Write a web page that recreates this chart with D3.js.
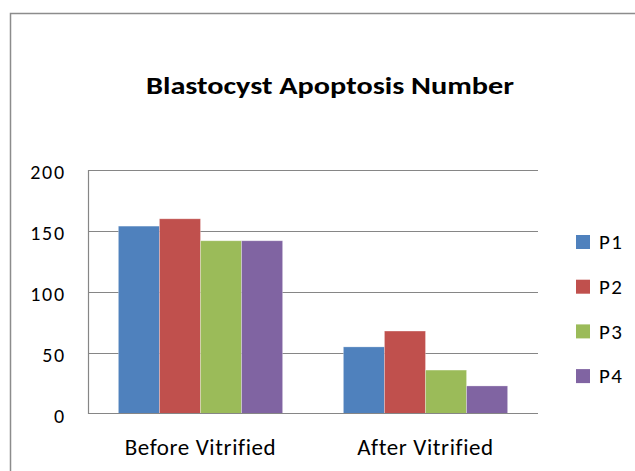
<!DOCTYPE html>
<html>
<head>
<meta charset="utf-8">
<script src="https://cdn.jsdelivr.net/npm/d3@7"></script>
<style>
  html, body { margin: 0; padding: 0; background: #fff; }
  svg { display: block; }
  text { font-family: Carlito, "Open Sans", "Noto Sans", sans-serif; fill: #000; }
</style>
</head>
<body>
<div id="chart"></div>
<script>
// data
const categories = ["Before Vitrified", "After Vitrified"];
const seriesNames = ["P1", "P2", "P3", "P4"];
const seriesValues = [
  [154, 55],   // P1
  [160, 68],   // P2
  [142, 36],   // P3
  [142, 23]    // P4
];
const yTicks = [0, 50, 100, 150, 200];
const colors = ["#4f81bd", "#c0504d", "#9bbb59", "#8064a2"];

const width = 635, height = 471;
const dims = { left: 88, right: 538, top: 170, bottom: 414 };

const svg = d3.select("#chart").append("svg")
  .attr("width", width)
  .attr("height", height);

// chart area border (runs off the right and bottom edges)
svg.append("rect")
  .attr("x", 10.5).attr("y", 13.5)
  .attr("width", 700).attr("height", 600)
  .attr("fill", "#fff")
  .attr("stroke", "#8c8c8c")
  .attr("stroke-width", 1.5);

// title
svg.append("text")
  .attr("x", 330).attr("y", 94)
  .attr("text-anchor", "middle")
  .attr("font-size", 25)
  .attr("font-weight", "bold")
  .attr("textLength", 368)
  .attr("lengthAdjust", "spacingAndGlyphs")
  .text("Blastocyst Apoptosis Number");

// scales
const x0 = d3.scaleBand()
  .domain(categories)
  .range([dims.left, dims.right]);
const x1 = d3.scaleBand()
  .domain(seriesNames)
  .range([0, x0.bandwidth() * 0.73]);
const y = d3.scaleLinear()
  .domain([0, 200])
  .range([dims.bottom, dims.top]);

// grid lines
svg.append("g")
  .selectAll("line")
  .data(yTicks.filter(d => d > 0))
  .join("line")
    .attr("x1", dims.left).attr("x2", dims.right)
    .attr("y1", d => Math.round(y(d)) + 0.5)
    .attr("y2", d => Math.round(y(d)) + 0.5)
    .attr("stroke", "#868686")
    .attr("stroke-width", 1.2);

// y axis labels
const yAxis = svg.append("g")
  .attr("transform", `translate(${dims.left},0)`)
  .call(d3.axisLeft(y).tickValues(yTicks).tickSize(0).tickPadding(22));
yAxis.select(".domain").remove();
yAxis.selectAll("text")
  .attr("font-size", 20)
  .attr("letter-spacing", 1.8)
  .attr("dy", "0.4em")
  .attr("font-family", null)
  .attr("fill", "#000");

// bars
const groupOffset = (x0.bandwidth() - x1.range()[1]) / 2;
const groups = svg.append("g")
  .selectAll("g")
  .data(seriesNames.map((name, i) => ({ name, i })))
  .join("g")
    .attr("fill", d => colors[d.i]);

groups.selectAll("rect")
  .data(d => categories.map((c, j) => ({ name: d.name, cat: c, value: seriesValues[d.i][j] })))
  .join("rect")
    .attr("x", d => x0(d.cat) + groupOffset + x1(d.name))
    .attr("y", d => y(d.value))
    .attr("width", x1.bandwidth())
    .attr("height", d => y(0) - y(d.value))
    .attr("stroke", "rgba(255,255,255,0.35)")
    .attr("stroke-width", 0.8);

// axis lines
svg.append("line")
  .attr("x1", dims.left + 0.5).attr("x2", dims.left + 0.5)
  .attr("y1", dims.top).attr("y2", dims.bottom)
  .attr("stroke", "#868686").attr("stroke-width", 1.2);
svg.append("line")
  .attr("x1", dims.left).attr("x2", dims.right)
  .attr("y1", dims.bottom - 0.5).attr("y2", dims.bottom - 0.5)
  .attr("stroke", "#868686").attr("stroke-width", 1.2);

// x axis labels
const xAxis = svg.append("g")
  .attr("transform", `translate(0,${dims.bottom})`)
  .call(d3.axisBottom(x0).tickSize(0).tickPadding(25));
xAxis.select(".domain").remove();
xAxis.selectAll("text")
  .attr("font-size", 23)
  .attr("letter-spacing", 0.6)
  .attr("font-family", null)
  .attr("fill", "#000");

// legend
const legend = svg.append("g")
  .selectAll("g")
  .data(seriesNames)
  .join("g")
    .attr("transform", (d, i) => `translate(576,${242 + i * 44.7})`);
legend.append("rect")
  .attr("x", 0).attr("y", -7)
  .attr("width", 14).attr("height", 14)
  .attr("fill", (d, i) => colors[i]);
legend.append("text")
  .attr("x", 23).attr("y", 0)
  .attr("dy", "0.35em")
  .attr("font-size", 21)
  .attr("letter-spacing", 1.5)
  .text(d => d);
</script>
</body>
</html>
